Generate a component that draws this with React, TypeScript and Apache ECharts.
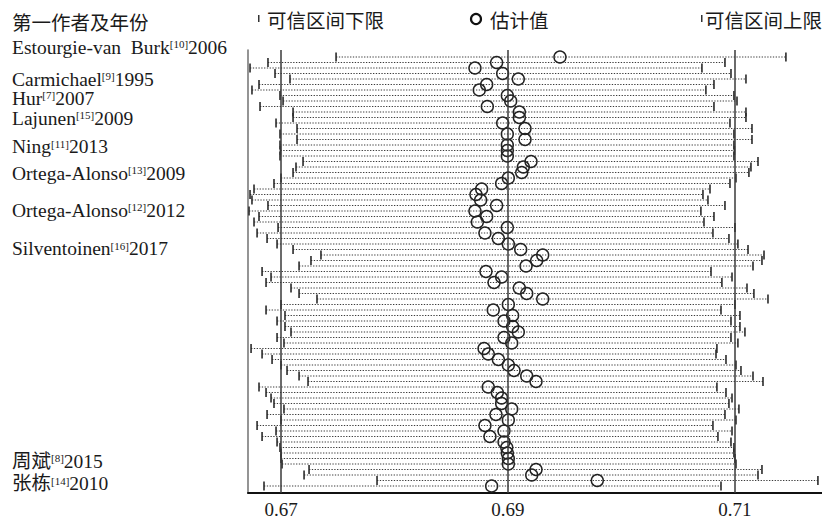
import React, { useEffect, useRef } from "react";
import * as echarts from "echarts";

// Point estimates, one per row (top to bottom)
const estimate = [
  0.69458, 0.689, 0.68709, 0.68953, 0.69091, 0.68812, 0.68747, 0.68994, 0.69024, 0.68818,
  0.691, 0.691, 0.68953, 0.6915, 0.68994, 0.6915, 0.68994, 0.68994, 0.68994, 0.69203,
  0.69135, 0.69121, 0.69003, 0.68944, 0.68768, 0.68718, 0.68759, 0.689, 0.68709, 0.68812,
  0.6873, 0.68994, 0.68797, 0.68915, 0.69003, 0.69112, 0.69306, 0.69253, 0.69159, 0.68806,
  0.68944, 0.68877, 0.691, 0.69165, 0.69306, 0.69003, 0.6887, 0.69041, 0.68965, 0.69041,
  0.69091, 0.68965, 0.69033, 0.68789, 0.68826, 0.68915, 0.69003, 0.69053, 0.69165, 0.69247,
  0.68826, 0.68906, 0.68944, 0.68944, 0.69033, 0.68894, 0.69003, 0.68797, 0.68965, 0.68841,
  0.68965, 0.68989, 0.68994, 0.69003, 0.69003, 0.69247, 0.69209, 0.69787, 0.68856,
];

// Lower confidence limits
const lowerCI = [
  0.67485, 0.66885, 0.66727, 0.66947, 0.67079, 0.66806, 0.66744, 0.66991, 0.67018, 0.66815,
  0.67106, 0.67106, 0.66956, 0.67141, 0.66991, 0.67141, 0.66991, 0.66995, 0.66991, 0.67194,
  0.67132, 0.67106, 0.67, 0.66938, 0.66762, 0.66727, 0.66744, 0.66885, 0.66718, 0.66806,
  0.66762, 0.66974, 0.66789, 0.66877, 0.66965, 0.67106, 0.67352, 0.67264, 0.67159, 0.66833,
  0.66912, 0.66868, 0.67088, 0.67159, 0.67317, 0.67, 0.66868, 0.67035, 0.66965, 0.67035,
  0.67088, 0.66965, 0.67026, 0.66736, 0.66833, 0.66921, 0.67, 0.67053, 0.67159, 0.67238,
  0.66806, 0.66868, 0.66912, 0.66938, 0.67026, 0.66877, 0.67, 0.66789, 0.66956, 0.66833,
  0.66965, 0.66991, 0.67, 0.67, 0.67009, 0.67247, 0.67203, 0.67846, 0.6685,
];

// Upper confidence limits
const upperCI = [
  0.71449, 0.70912, 0.70709, 0.70965, 0.71097, 0.70815, 0.70744, 0.70991, 0.71018, 0.70815,
  0.71097, 0.71097, 0.70956, 0.7115, 0.70991, 0.7115, 0.70991, 0.70995, 0.70991, 0.71203,
  0.71141, 0.71123, 0.71009, 0.70956, 0.7078, 0.70718, 0.70762, 0.70912, 0.707, 0.70815,
  0.70727, 0.71, 0.70806, 0.70947, 0.71026, 0.71115, 0.71256, 0.71238, 0.71159, 0.70789,
  0.70974, 0.70885, 0.71106, 0.71167, 0.71291, 0.71, 0.70877, 0.71044, 0.70965, 0.71044,
  0.71088, 0.70965, 0.71026, 0.70841, 0.70833, 0.70921, 0.71009, 0.71053, 0.71159, 0.71247,
  0.70841, 0.70921, 0.70974, 0.70947, 0.71035, 0.70912, 0.71009, 0.70806, 0.70974, 0.7085,
  0.70965, 0.70991, 0.70991, 0.71, 0.71009, 0.71238, 0.71203, 0.71731, 0.70877,
];

const xTickLabels = [0.67, 0.69, 0.71];

// Study labels: name, reference, year
const studyNames = [
  "Estourgie-van  Burk", "Carmichael", "Hur", "Lajunen", "Ning",
  "Ortega-Alonso", "Ortega-Alonso", "Silventoinen", "周斌", "张栋",
];
const studyRefs = ["[10]", "[9]", "[7]", "[15]", "[11]", "[13]", "[12]", "[16]", "[8]", "[14]"];
const studyYears = ["2006", "1995", "2007", "2009", "2013", "2009", "2012", "2017", "2015", "2010"];

const headerText = "第一作者及年份";
const legendLower = "可信区间下限";
const legendEst = "估计值";
const legendUpper = "可信区间上限";

// layout (pixel positions of the left-hand labels)
const labelY = [47, 79, 98, 118, 146.5, 173, 210, 248.5, 461, 483.5];

const SERIF = "'Liberation Serif', 'Noto Sans CJK SC', serif";
const CJK = "'Noto Sans CJK SC', 'Liberation Serif', sans-serif";

export default function App() {
  const ref = useRef<HTMLDivElement>(null);

  useEffect(() => {
    if (!ref.current) return;
    const chart = echarts.init(ref.current, undefined, { renderer: "svg" });

    const ciData = estimate.map((_, i) => [i, lowerCI[i], upperCI[i]]);
    const estData = estimate.map((v, i) => [v, i]);

    const labelGraphics: any[] = studyNames.map((name, k) => ({
      type: "text",
      x: 12,
      y: labelY[k],
      style: {
        text: `{a|${name}}{s|${studyRefs[k]}}{a|${studyYears[k]}}`,
        verticalAlign: "middle",
        fill: "#1a1a1a",
        rich: {
          a: { fontFamily: SERIF, fontSize: 19.5, lineHeight: 17, fill: "#1a1a1a" },
          s: { fontFamily: SERIF, fontSize: 11, lineHeight: 10, verticalAlign: "top", fill: "#1a1a1a" },
        },
      },
    }));

    const option: any = {
      animation: false,
      grid: { left: 248, right: 0, top: 50, bottom: 26, containLabel: false },
      xAxis: {
        type: "value",
        min: 0.66709,
        max: 0.71767,
        axisLine: { show: true, onZero: false, lineStyle: { color: "#111", width: 2 } },
        axisTick: { show: false },
        splitLine: { show: false },
        axisLabel: {
          show: true,
          customValues: xTickLabels,
          formatter: (v: number) => v.toFixed(2),
          fontFamily: SERIF,
          fontSize: 19,
          color: "#1a1a1a",
          margin: 7,
        },
      },
      yAxis: {
        type: "value",
        inverse: true,
        min: -1.27,
        max: 79.27,
        axisLine: { show: true, onZero: false, lineStyle: { color: "#7a7a7a", width: 1.6 } },
        axisTick: { show: false },
        axisLabel: { show: false },
        splitLine: { show: false },
      },
      series: [
        {
          type: "custom",
          data: ciData,
          encode: { x: [1, 2], y: 0 },
          renderItem: (params: any, api: any) => {
            const i = api.value(0);
            const lo = api.coord([api.value(1), i]);
            const hi = api.coord([api.value(2), i]);
            const h = 4.5;
            return {
              type: "group",
              children: [
                {
                  type: "line",
                  shape: { x1: lo[0], y1: lo[1], x2: hi[0], y2: hi[1] },
                  style: { stroke: "#3a3a3a", lineWidth: 1.1, lineDash: [1.3, 1.5] },
                },
                {
                  type: "line",
                  shape: { x1: lo[0], y1: lo[1] - h, x2: lo[0], y2: lo[1] + h },
                  style: { stroke: "#2a2a2a", lineWidth: 1.6 },
                },
                {
                  type: "line",
                  shape: { x1: hi[0], y1: hi[1] - h, x2: hi[0], y2: hi[1] + h },
                  style: { stroke: "#2a2a2a", lineWidth: 1.6 },
                },
              ],
            };
          },
          z: 2,
        },
        {
          type: "scatter",
          data: estData,
          symbol: "circle",
          symbolSize: 12,
          itemStyle: { color: "rgba(0,0,0,0)", borderColor: "#222", borderWidth: 1.4, opacity: 1 },
          z: 4,
          markLine: {
            silent: true,
            symbol: ["none", "none"],
            label: { show: false },
            lineStyle: { type: "solid", color: "#3a3a3a", width: 1.5 },
            data: xTickLabels.map((v) => ({ xAxis: v })),
          },
        },
      ],
      graphic: [
        {
          type: "text",
          x: 12,
          y: 21,
          style: { text: headerText, fontFamily: CJK, fontSize: 19.5, fill: "#1a1a1a", verticalAlign: "middle" },
        },
        { type: "rect", shape: { x: 258, y: 15, width: 1.5, height: 7 }, style: { fill: "#333" } },
        {
          type: "text",
          x: 267,
          y: 19,
          style: { text: legendLower, fontFamily: CJK, fontSize: 19.5, fill: "#1a1a1a", verticalAlign: "middle" },
        },
        {
          type: "circle",
          shape: { cx: 476, cy: 19, r: 5 },
          style: { fill: "none", stroke: "#111", lineWidth: 2.2 },
        },
        {
          type: "text",
          x: 490,
          y: 19,
          style: { text: legendEst, fontFamily: CJK, fontSize: 19.5, fill: "#1a1a1a", verticalAlign: "middle" },
        },
        { type: "rect", shape: { x: 701, y: 15, width: 1.5, height: 7 }, style: { fill: "#333" } },
        {
          type: "text",
          x: 705,
          y: 19,
          style: { text: legendUpper, fontFamily: CJK, fontSize: 19.5, fill: "#1a1a1a", verticalAlign: "middle" },
        },
        ...labelGraphics,
      ],
    };

    chart.setOption(option);
    return () => chart.dispose();
  }, []);

  return (
    <div
      ref={ref}
      style={{ position: "fixed", left: 0, top: 0, width: 822, height: 519, background: "#fff" }}
    />
  );
}
